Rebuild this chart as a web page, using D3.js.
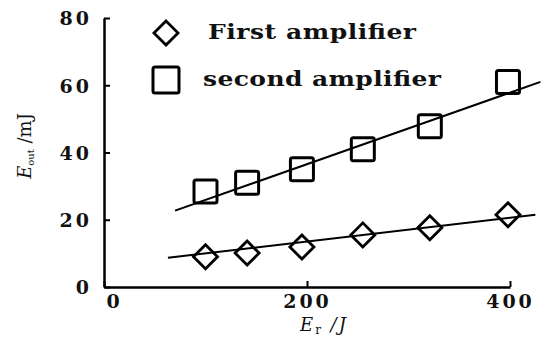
<!DOCTYPE html>
<html><head><meta charset="utf-8">
<script src="https://cdn.jsdelivr.net/npm/d3@7"></script>
<style>body{margin:0;background:#fff}svg{display:block}</style>
</head><body>
<svg id="c" width="544" height="338"></svg>
<script>
const energyIn = [100, 141, 195, 255, 321, 398];
const firstAmp = [9, 10.1, 11.9, 15.5, 17.6, 21.5];
const secondAmp = [28.4, 31, 35, 41, 47.8, 61];
const firstFit = [[63, 8.7], [425, 21.5]];
const secondFit = [[70, 22.7], [430, 61]];
const xTicks = [0, 200, 400];
const yTicks = [0, 20, 40, 60, 80];
const legendLabels = ["First amplifier", "second amplifier"];

const svg = d3.select("#c");
const x = d3.scaleLinear().domain([0, 400]).range([104, 510]);
const y = d3.scaleLinear().domain([0, 80]).range([287, 18]);
const numFont = "'DejaVu Serif', serif";

const yAxis = svg.append("g").attr("transform", `translate(${x(0)},0)`)
  .call(d3.axisLeft(y).tickValues(yTicks).tickSizeInner(-6).tickSizeOuter(0).tickPadding(12).tickFormat(d3.format("d")));
yAxis.select(".domain").attr("stroke", "#000").attr("stroke-width", 2.5);
yAxis.selectAll(".tick line").attr("stroke", "#000").attr("stroke-width", 2);
yAxis.selectAll(".tick text").attr("font-family", numFont).attr("font-weight", "bold")
  .attr("font-size", 19).attr("letter-spacing", 3).attr("fill", "#111").attr("dy", "0.36em");

const xAxis = svg.append("g").attr("transform", `translate(0,${y(0)})`)
  .call(d3.axisBottom(x).tickValues(xTicks).tickSizeInner(-6).tickSizeOuter(0).tickPadding(8).tickFormat(d3.format("d")));
xAxis.select(".domain").attr("stroke", "#000").attr("stroke-width", 2.5);
xAxis.selectAll(".tick line").attr("stroke", "#000").attr("stroke-width", 2);
xAxis.selectAll(".tick text").attr("font-family", numFont).attr("font-weight", "bold")
  .attr("font-size", 19).attr("letter-spacing", 3).attr("fill", "#111")
  .attr("dx", (d) => d === 0 ? 10 : 0);

// fit lines
const line = d3.line().x(d => x(d[0])).y(d => y(d[1]));
[firstFit, secondFit].forEach(f => {
  svg.append("path").attr("d", line(f)).attr("fill", "none").attr("stroke", "#000").attr("stroke-width", 2);
});

const diamond = d3.symbol().type(d3.symbolSquare).size(17 * 17);
function drawDiamond(g, cx, cy) {
  g.append("path").attr("d", diamond())
    .attr("transform", `translate(${cx},${cy}) rotate(45)`)
    .attr("fill", "none").attr("stroke", "#000").attr("stroke-width", 2.8);
}
function drawSquare(g, cx, cy, s) {
  g.append("rect").attr("x", cx - s / 2).attr("y", cy - s / 2).attr("width", s).attr("height", s)
    .attr("rx", 2).attr("fill", "none").attr("stroke", "#000").attr("stroke-width", 3);
}

const pts = svg.append("g");
energyIn.forEach((e, i) => {
  drawDiamond(pts, x(e), y(firstAmp[i]));
  drawSquare(pts, x(e), y(secondAmp[i]), 23);
});

// legend
const lg = svg.append("g");
drawDiamond(lg, 166, 33);
drawSquare(lg, 166, 80, 26);
const legFont = "'DejaVu Serif', serif";
const sx = 1.25;
lg.append("text").attr("transform", `translate(208,39) scale(${sx},1)`).text(legendLabels[0])
  .attr("font-family", legFont).attr("font-weight", "bold").attr("font-size", 20)
  .attr("textLength", 208 / sx).attr("lengthAdjust", "spacing").attr("fill", "#111");
lg.append("text").attr("transform", `translate(203,86) scale(${sx},1)`).text(legendLabels[1])
  .attr("font-family", legFont).attr("font-weight", "bold").attr("font-size", 20)
  .attr("textLength", 238 / sx).attr("lengthAdjust", "spacing").attr("fill", "#111");

// axis titles
const xt = svg.append("text").attr("x", 300).attr("y", 331)
  .attr("font-family", "'DejaVu Serif', serif").attr("font-size", 18).attr("fill", "#111").attr("letter-spacing", 2);
xt.append("tspan").attr("font-style", "italic").text("E");
xt.append("tspan").attr("font-size", 12).attr("dy", 3).text("r");
xt.append("tspan").attr("dy", -3).attr("font-style", "italic").text(" /J");

const yt = svg.append("text").attr("transform", "translate(31,146) rotate(-90)").attr("text-anchor", "middle")
  .attr("font-family", "'DejaVu Serif', serif").attr("font-size", 18).attr("fill", "#111");
yt.append("tspan").attr("font-style", "italic").text("E");
yt.append("tspan").attr("font-size", 10).attr("dy", 3).text("out");
yt.append("tspan").attr("dy", -3).text(" /mJ");
</script>
</body></html>
